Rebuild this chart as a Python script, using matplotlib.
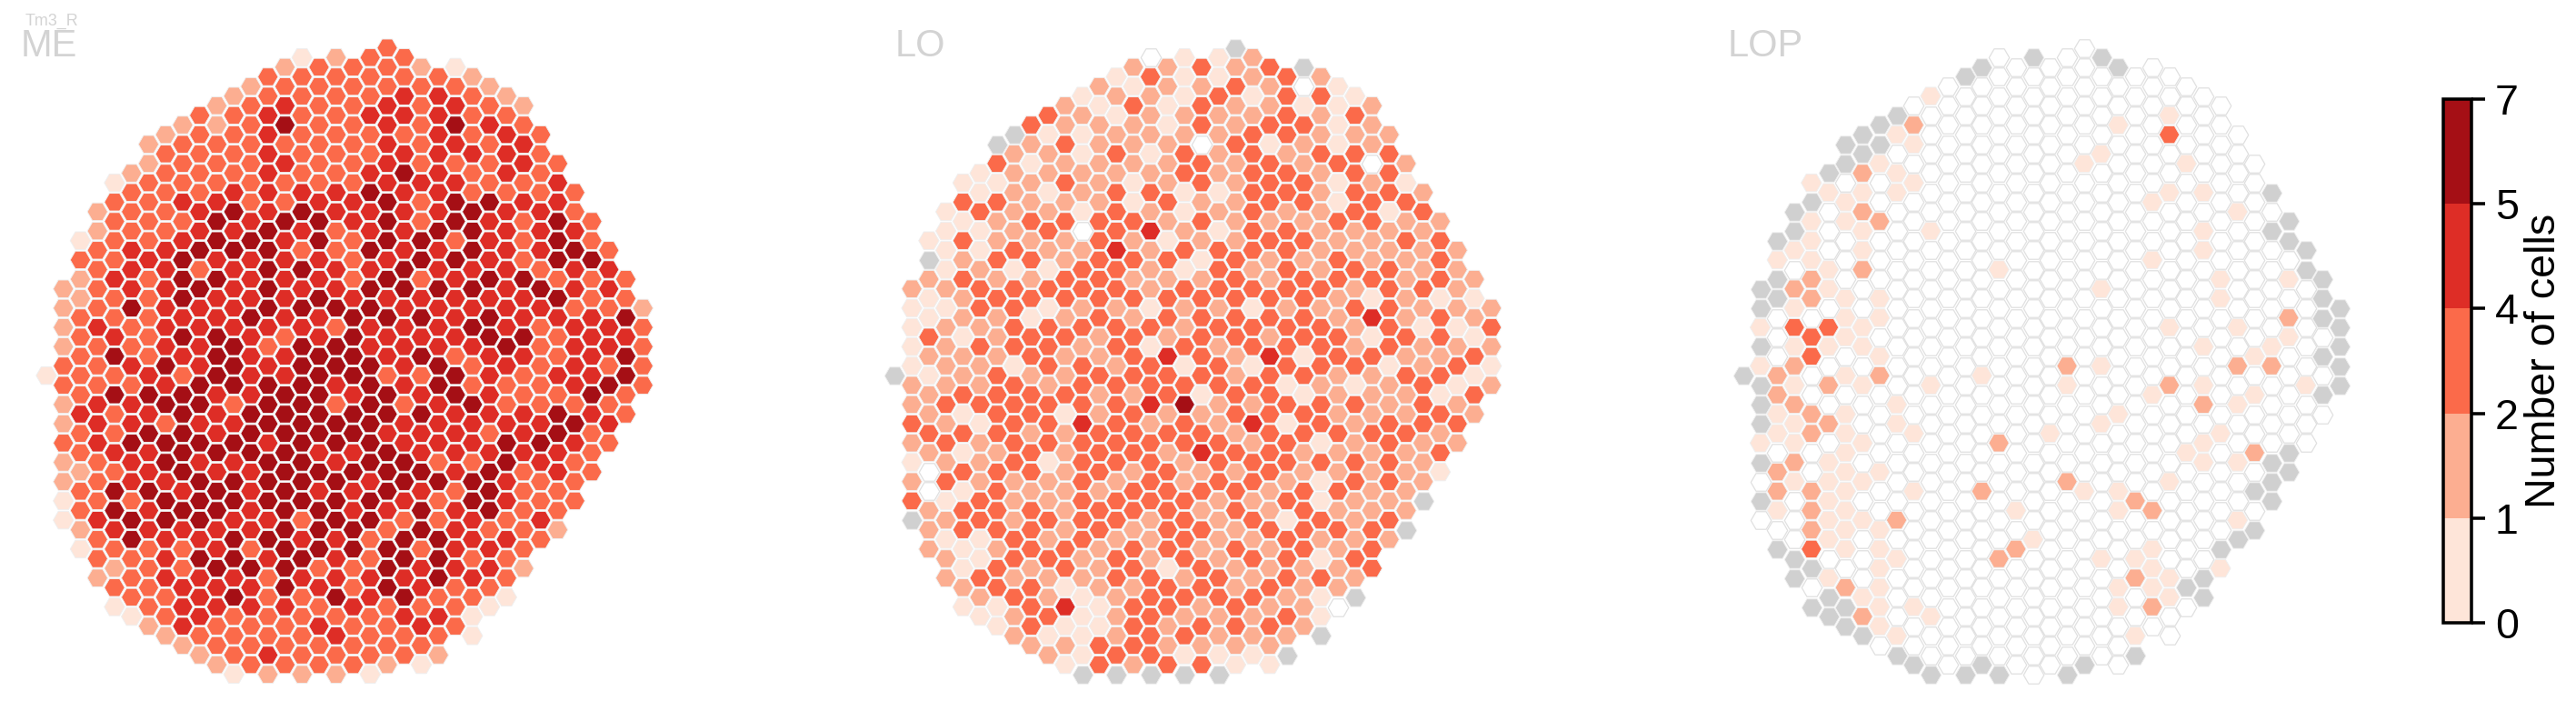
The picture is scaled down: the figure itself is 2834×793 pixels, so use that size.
import numpy as np
import matplotlib
matplotlib.use("Agg")
import matplotlib.pyplot as plt
from matplotlib.colors import ListedColormap, BoundaryNorm
from matplotlib.cm import ScalarMappable

plt.rcParams["font.family"] = ["Liberation Sans", "DejaVu Sans"]

W, H = 2834, 793

# first half-row of every hex column, same grid in all three panels
col_top = [34, 25, 20, 17, 14, 13, 10, 9, 8, 7, 6, 5, 4, 3, 2, 1, 2, 1,
           2, 1, 0, 1, 2, 3, 2, 3, 4, 5, 6, 9, 12, 15, 18, 21, 24, 27]

# a,b,c,d,e = colour bins, w = empty column, g = column not in this neuropil
me_cols = [
    "a", "bbbbccbbcbbaa", "acbbcccccdccbccba", "bbccccdcccdddcccdccb",
    "accccdccdececcdceedcbca", "bcccdddeccdcddeddceeccca",
    "bbccccdcccccdededdeddccccb", "bcccccddddddedeceedeedddccb",
    "bcccdcdeeededceeeeededccdddb", "cccccddece" "ddddeedede" "eededddcb",
    "bbcccdeede" "ddeeeddded" "eeddeddccb", "bccccdeded" "dddeeecded" "eedeedeccca",
    "bccccccded" "ddeddddeee" "ddddceddccc", "ccddddddee" "eeedcdeeed" "eeededccccdb",
    "bcdecdcced" "ddddcddeee" "eeeeeeeedccc", "accccccded" "cededeeeee" "eeeecdedccccb",
    "cccccccdee" "ddeddeeeee" "dedeeecdcdcc", "bccccccddc" "cddeceedce" "edeeedddecdcb",
    "cccccccddc" "ccdeeeedee" "deddeeccdccc", "cccdccdedd" "edeeddeeee" "eedeeccddccca",
    "cccdddddee" "edededdcee" "deeedceeecccb", "ccddcdeddd" "deedddddcd" "deedceededcc",
    "bcccccdcce" "ecdedecded" "dedeecddcdca", "cddddddded" "dedddeeddd" "cecceeecdcb",
    "acdedcdeec" "eddddceedd" "ddcddddccc", "bcccdcceee" "dededccedd" "ceeddcdcaa",
    "bcdccceddd" "edeeddddcd" "eeecddca", "bcdddcdddd" "dddedccdee" "ddcdcca",
    "bcddcdccce" "ddedccdddc" "ccccb", "ccccdddced" "cccccdedcc" "dc",
    "cddeeecedc" "cdceeddccb", "ccdeddcddd" "dcedccc", "cceccddddedccc",
    "cddcddcecdc", "ccedeecc", "bcccc",
]

lo_cols = [
    "g", "baaaabbcbabcg", "agbaacbabbcbwwbbb", "aaaababbbb" "cbcbcababb",
    "acacbcbbab" "bcacacacc" "aaba", "aacaabccbc" "bbcabbbcca" "acba",
    "gcacbbcbcb" "bbccccbccc" "cbccaa", "gbbbbbcacc" "ccacccccbb" "bccbcbb",
    "cbabbcbcbc" "accbccbccb" "cccbcccb", "cabbabcbac" "acccbcccab" "bcbcbbcab",
    "bbcbcbcbbc" "cbcbbcabbb" "bbbccadaba", "abaabbawbc" "cbcbcccdcc" "ccccbbaaaag",
    "babbbbbccc" "cccbbcbbcc" "cbccbbbaacc", "ababcbcccd" "ccbccbcccc" "cbccbccbbbcg",
    "bacbbbaacb" "cbcbcccbcc" "cbccbccbcccb", "wcbbbabcbd" "bbbacaccdb" "ccccbbbcccccg",
    "bbaabbbcba" "cbccbdccbc" "bcccccaccbbc", "aaabbccaab" "cacbbcacec" "cbbccccbcbcag",
    "cbccwccbcb" "abcccccabc" "dbcbcbccbcbc", "aacbbbbaba" "cccbcbccbb" "cccbbbbccbbag",
    "gbcbbcbbbb" "bcccccbbcc" "bcbccbcbbccba", "bbabcccccc" "cbcaccacbd" "bccbcbcbcbba",
    "cbbcacccbc" "bbccbdcccc" "ccbbcbbcbcba", "ccccbccbcc" "ccbcccacac" "cbcacccbcbg",
    "gwacbbccbc" "bccccacacc" "bbccccbbbb", "bcbbcbbbbb" "bcbcccbcca" "caacbacaag",
    "aaaacaacbc" "cbbccbbbcb" "bcbcbbbw", "acbccccbbc" "bcbbcacbbc" "cbbbcbg",
    "bbbwbccbbc" "adacbbbcbb" "bbccc", "bcccabbccc" "ccabbccccb" "cb",
    "bacbcbbbbc" "bcbbcbbbbg", "bcbbbcbabb" "cccbbbg", "bcccaccbcacbca",
    "bbbbabcabcb", "babacacb", "bcbab",
]

lop_cols = [
    "g", "ggagagggagwgw", "gaggwwwbba" "awbbawg", "ggawbacaba" "baabawwwgg",
    "agaaabbwcc" "wwbbwwbbbc" "gwg", "gawwwaawca" "wbwbwaaaaa" "wagg",
    "ggwaawwwaa" "awawaaaaaa" "aawbgg", "ggbabaabww" "aawawwawaw" "awwwabg",
    "ggawwbwwwa" "awabwwwwaw" "waaaaaaw", "gawaawwwww" "wwwwwaawww" "wbwawwwag",
    "wbawawwwww" "wwwwwwwaww" "awwwwwawwg", "awwwwwwaww" "wwwwwawwww" "wwwwwwwawwg",
    "w" * 31,
    "g" + "w" * 30 + "g",
    "g" + "w" * 15 + "a" + "w" * 5 + "b" + "w" * 8 + "g",
    "w" * 11 + "a" + "w" * 8 + "b" + "w" * 5 + "b" + "w" * 5 + "g",
    "w" * 23 + "awb" + "w" * 6,
    "g" + "w" * 24 + "a" + "w" * 7,
    "w" * 19 + "a" + "w" * 12,
    "w" * 16 + "ba" + "w" * 4 + "b" + "w" * 9 + "g",
    "w" * 6 + "a" + "w" * 16 + "a" + "w" * 8 + "g",
    "gwwwwa" + "w" * 6 + "awwwawwa" + "w" * 6 + "a" + "w" * 5,
    "gwwa" + "w" * 14 + "awwwaawwwaawww",
    "w" * 22 + "bwwabwwag",
    "w" * 7 + "awwa" + "w" * 6 + "a" + "w" * 5 + "bwaaabw",
    "wwacwwa" + "w" * 6 + "awwbwwwwawwwwaaww",
    "wwwwa" + "w" * 14 + "a" + "w" * 6 + "gw",
    "wwwwwawaawwwwawabwaawwwwwgg",
    "w" * 9 + "aa" + "w" * 6 + "a" + "w" * 5 + "ga",
    "wwwwawwwwwawbwawwawwag",
    "w" * 10 + "awawwbwgwg",
    "gwgwwwwwabwwwwggg",
    "ggwawbawwwwwgg",
    "ggwwwwwawww",
    "gggwgwgw",
    "ggggg",
]

panel_names = ["ME", "LO", "LOP"]
panel_cols = [me_cols, lo_cols, lop_cols]
neuron_name = "Tm3_R"

bounds = [0, 1, 2, 4, 5, 7]
colors = ["#fee5d9", "#fcae91", "#fb6a4a", "#de2d26", "#a50f15"]
code_count = {"a": 0, "b": 1, "c": 3, "d": 4, "e": 6}
cb_label = "Number of cells"

cmap = ListedColormap(colors)
norm = BoundaryNorm(bounds, cmap.N)

EDGE = "#efefef"
EMPTY_EDGE = "#e0e0e0"
GREY = "#d0d0d0"
HEX = (6, 0, 30)
HEX_S = 29

col_w = 18.75
row_h = 10.6
x0 = 51.0
y0 = 52.7
panel_dx = 933.4


def px_axes(fig, left, top, right, bottom):
    return fig.add_axes([left / W, 1 - bottom / H, (right - left) / W, (bottom - top) / H])


fig = plt.figure(figsize=(W / 300, H / 300), dpi=300)
title_x = [23, 985, 1901]

for p, (name, cols) in enumerate(zip(panel_names, panel_cols)):
    left = x0 + p * panel_dx - col_w
    ax = px_axes(fig, left, y0 - 2 * row_h, left + 37 * col_w, y0 + 67 * row_h)
    ax.set_xlim(-1, 36)
    ax.set_ylim(67, -2)
    ax.axis("off")

    xs, ys, codes = [], [], []
    for k, col in enumerate(cols):
        for i, c in enumerate(col):
            xs.append(k)
            ys.append(col_top[k] + 2 * i)
            codes.append(c)
    xs = np.array(xs)
    ys = np.array(ys)
    codes = np.array(codes)

    m = codes == "w"
    ax.scatter(xs[m], ys[m], s=HEX_S, marker=HEX, facecolor="white", edgecolor=EMPTY_EDGE, linewidth=0.3)
    m = codes == "g"
    ax.scatter(xs[m], ys[m], s=HEX_S, marker=HEX, facecolor=GREY, edgecolor=EDGE, linewidth=0.22)
    m = ~np.isin(codes, ["w", "g"])
    vals = [code_count[c] for c in codes[m]]
    ax.scatter(xs[m], ys[m], s=HEX_S, marker=HEX, c=vals, cmap=cmap, norm=norm, edgecolor=EDGE, linewidth=0.22)

    fig.text(title_x[p] / W, 1 - 62 / H, name, color="#d3d3d3", fontsize=10, ha="left", va="baseline")

fig.text(28 / W, 1 - 28 / H, neuron_name, color="#d3d3d3", fontsize=4.3, ha="left", va="baseline")

cax = px_axes(fig, 2688, 109, 2719, 685)
cb = fig.colorbar(ScalarMappable(norm=norm, cmap=cmap), cax=cax, ticks=bounds)
cb.outline.set_linewidth(0.85)
cb.ax.tick_params(width=0.85, length=3.6, pad=2.6, labelsize=11.2)
cb.set_label(cb_label, fontsize=11.2, labelpad=1.5)

fig.savefig("out.png", dpi=300, facecolor="white")
